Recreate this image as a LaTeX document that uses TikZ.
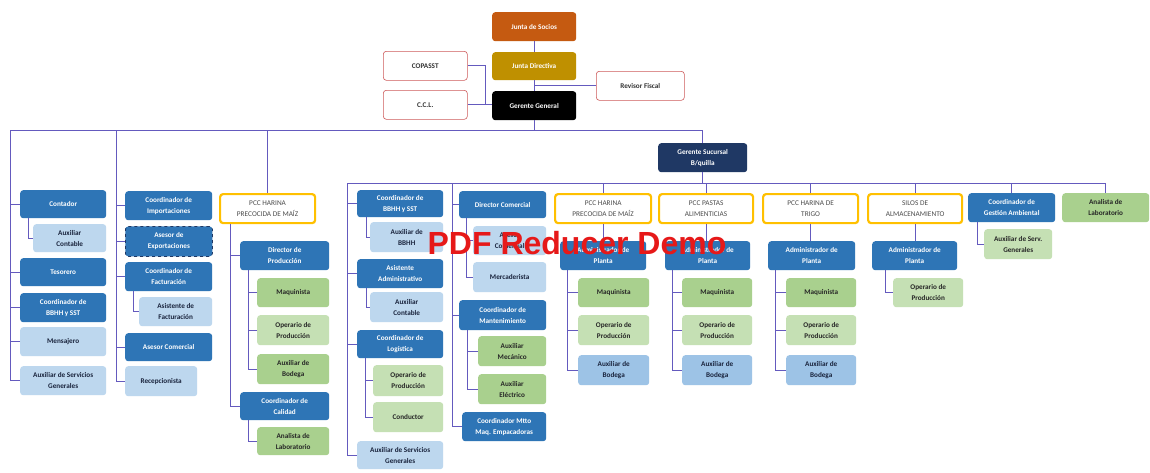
\documentclass[tikz,border=0pt]{standalone}
\usepackage{fontspec}
\setmainfont{Carlito}
\newfontfamily\wmfont{Liberation Sans}
\definecolor{dblue}{RGB}{46,117,182}
\definecolor{navy}{RGB}{31,56,100}
\definecolor{lblue}{RGB}{189,215,238}
\definecolor{mblue}{RGB}{157,195,230}
\definecolor{grn}{RGB}{169,208,142}
\definecolor{lgrn}{RGB}{197,224,180}
\definecolor{gold}{RGB}{255,192,0}
\definecolor{lnc}{RGB}{100,90,190}
\definecolor{orng}{RGB}{197,90,17}
\definecolor{dgold}{RGB}{191,144,0}
\definecolor{redb}{RGB}{205,90,90}
\definecolor{txtd}{RGB}{25,35,60}
\definecolor{wmred}{RGB}{230,25,25}
\newcommand{\bx}[7]{\node[#2, minimum width={#5pt-#3pt}, minimum height={#6pt-#4pt}] (#1) at (#3,#4) {#7};}
\tikzset{
 box/.style={rounded corners=3pt, anchor=north west, align=center, inner sep=1pt, font=\fontsize{7.2}{11}\selectfont\bfseries},
 db/.style={box, fill=dblue, text=white},
 dbd/.style={db, draw=navy, dashed, line width=0.8pt},
 nv/.style={box, fill=navy, text=white},
 lb/.style={box, fill=lblue, text=txtd},
 mb/.style={box, fill=mblue, text=txtd},
 gr/.style={box, fill=grn, text=black!85},
 lg/.style={box, fill=lgrn, text=black!85},
 pcc/.style={box, draw=gold, line width=2.2pt, fill=white, text=black!70, font=\fontsize{7.3}{10.5}\selectfont},
 wbox/.style={box, draw=redb, line width=0.6pt, fill=white, text=black!80},
 ln/.style={draw=lnc, line width=0.9pt},
}
\begin{document}
\begin{tikzpicture}[x=1pt,y=-1pt]
\fill[white] (0,0) rectangle (1150,472);
\useasboundingbox (0,0) rectangle (1150,472);
% top
\bx{js}{box, fill=orng, text=white}{492}{12}{576}{41}{Junta de Socios}
\bx{jd}{box, fill=dgold, text=white}{492}{52}{576}{80}{Junta Directiva}
\bx{gg}{box, fill=black, text=white}{492}{91}{576}{120}{Gerente General}
\bx{cop}{wbox}{383}{51}{467}{80}{COPASST}
\bx{ccl}{wbox}{383}{90}{467}{119}{C.C.L.}
\bx{rf}{wbox}{596}{71}{684}{100}{Revisor Fiscal}
\coordinate (j1) at (485,105);
\draw[ln] (js.south) -- (jd.north);
\draw[ln] (jd.south) -- (gg.north);
\draw[ln] (cop.east) -| (j1);
\draw[ln] (ccl.east) -- (ccl.east -| gg.west);
\draw[ln] (rf.west) -- (rf.west -| gg.north);
% main bar
\coordinate (b1L) at (10,130);
\coordinate (c2) at (116,130);
\bx{gs}{nv}{658}{143}{747}{172}{Gerente Sucursal\\B/quilla}
\draw[ln] (gg.south) -- (gg.south |- b1L);
\draw[ln] (b1L) -| (gs.north);
% col1
\bx{cont}{db}{20}{190}{106}{218}{Contador}
\bx{auxc1}{lb}{33}{224}{106}{252}{Auxiliar\\Contable}
\bx{teso}{db}{20}{258}{106}{286}{Tesorero}
\bx{rrhh1}{db}{20}{293}{106}{322}{Coordinador de\\BBHH y SST}
\bx{mens}{lb}{20}{327}{106}{356}{Mensajero}
\bx{asg1}{lb}{20}{366}{106}{395}{Auxiliar de Servicios\\Generales}
\draw[ln] (b1L) |- (asg1.west);
\foreach \n in {cont,teso,rrhh1,mens} \draw[ln] (\n.west) -- (\n.west -| b1L);
\coordinate (v1) at ([xshift=8pt]cont.south west);
\draw[ln] (v1) |- (auxc1.west);
% col2
\bx{imp}{db}{125}{191}{212}{220}{Coordinador de\\Importaciones}
\bx{expo}{dbd}{125}{226}{212}{256}{Asesor de\\Exportaciones}
\bx{fac}{db}{125}{262}{212}{291}{Coordinador de\\Facturación}
\bx{asf}{lb}{139}{297}{212}{326}{Asistente de\\Facturación}
\bx{ac1}{db}{125}{333}{212}{361}{Asesor Comercial}
\bx{rec}{lb}{125}{366}{197}{396}{Recepcionista}
\draw[ln] (c2) |- (rec.west);
\foreach \n in {imp,expo,fac,ac1} \draw[ln] (\n.west) -- (\n.west -| c2);
\coordinate (v2) at ([xshift=8pt]fac.south west);
\draw[ln] (v2) |- (asf.west);
% col3
\bx{pcc1}{pcc}{219}{193}{314}{222}{PCC HARINA\\PRECOCIDA DE MAÍZ}
\bx{dp}{db}{240}{241}{329}{270}{Director de\\Producción}
\bx{maq1}{gr}{257}{278}{329}{307}{Maquinista}
\bx{op1}{lg}{257}{315}{329}{345}{Operario de\\Producción}
\bx{ab1}{gr}{257}{354}{329}{384}{Auxiliar de\\Bodega}
\bx{cal}{db}{240}{392}{329}{420}{Coordinador de\\Calidad}
\bx{al1}{gr}{257}{427}{329}{455}{Analista de\\Laboratorio}
\draw[ln] (pcc1.north) -- (pcc1.north |- b1L);
\coordinate (v3) at ([xshift=11pt]pcc1.south west);
\draw[ln] (v3) |- (cal.west);
\draw[ln] (dp.west) -- (dp.west -| v3);
\coordinate (v3b) at ([xshift=8pt]dp.south west);
\draw[ln] (v3b) |- (ab1.west);
\foreach \n in {maq1,op1} \draw[ln] (\n.west) -- (\n.west -| v3b);
\coordinate (v3c) at ([xshift=8pt]cal.south west);
\draw[ln] (v3c) |- (al1.west);
% bar 2
\coordinate (b2L) at (347,183);
\coordinate (c5) at (452,183);
\bx{al5}{gr}{1062}{193}{1149}{222}{Analista de\\Laboratorio}
\draw[ln] (gs.south) -- (gs.south |- b2L);
\draw[ln] (b2L) -| (al5.north);
% col4
\bx{rrhh2}{db}{357}{190}{443}{217}{Coordinador de\\BBHH y SST}
\bx{auxbb}{lb}{370}{222}{443}{252}{Auxiliar de\\BBHH}
\bx{asad}{db}{357}{259}{443}{288}{Asistente\\Administrativo}
\bx{auxc2}{lb}{370}{292}{443}{322}{Auxiliar\\Contable}
\bx{logi}{db}{357}{330}{443}{358}{Coordinador de\\Logística}
\bx{op4}{lg}{373}{365}{443}{396}{Operario de\\Producción}
\bx{cond}{lg}{373}{402}{443}{432}{Conductor}
\bx{asg2}{lb}{357}{441}{443}{469}{Auxiliar de Servicios\\Generales}
\draw[ln] (b2L) |- (asg2.west);
\foreach \n in {rrhh2,asad,logi} \draw[ln] (\n.west) -- (\n.west -| b2L);
\coordinate (v4a) at ([xshift=9pt]rrhh2.south west);
\draw[ln] (v4a) |- (auxbb.west);
\coordinate (v4b) at ([xshift=9pt]asad.south west);
\draw[ln] (v4b) |- (auxc2.west);
\coordinate (v4c) at ([xshift=8pt]logi.south west);
\draw[ln] (v4c) |- (cond.west);
\draw[ln] (op4.west) -- (op4.west -| v4c);
% col5
\bx{dc}{db}{459}{191}{546}{218}{Director Comercial}
\bx{ac2}{lb}{473}{226}{546}{255}{Asesor\\Comercial}
\bx{merc}{lb}{473}{262}{546}{292}{Mercaderista}
\bx{mant}{db}{459}{300}{546}{330}{Coordinador de\\Mantenimiento}
\bx{amec}{gr}{478}{336}{546}{366}{Auxiliar\\Mecánico}
\bx{aele}{gr}{478}{374}{546}{404}{Auxiliar\\Eléctrico}
\bx{mtto}{db}{462}{412}{546}{441}{Coordinador Mtto\\Maq. Empacadoras}
\draw[ln] (c5) |- (mtto.west);
\foreach \n in {dc,mant} \draw[ln] (\n.west) -- (\n.west -| c5);
\coordinate (v5a) at ([xshift=7pt]dc.south west);
\draw[ln] (v5a) |- (merc.west);
\draw[ln] (ac2.west) -- (ac2.west -| v5a);
\coordinate (v5b) at ([xshift=8pt]mant.south west);
\draw[ln] (v5b) |- (aele.west);
\draw[ln] (amec.west) -- (amec.west -| v5b);
% col6
\bx{pcc2}{pcc}{554}{193}{650}{222}{PCC HARINA\\PRECOCIDA DE MAÍZ}
\bx{adm2}{db}{560}{241}{646}{270}{Administrador de\\Planta}
\bx{maq2}{gr}{578}{278}{649}{307}{Maquinista}
\bx{op2}{lg}{578}{315}{649}{345}{Operario de\\Producción}
\bx{ab2}{mb}{578}{355}{649}{385}{Auxiliar de\\Bodega}
% col7
\bx{pcc3}{pcc}{658}{193}{752}{222}{PCC PASTAS\\ALIMENTICIAS}
\bx{adm3}{db}{665}{241}{750}{270}{Administrador de\\Planta}
\bx{maq3}{gr}{682}{278}{752}{307}{Maquinista}
\bx{op3}{lg}{682}{315}{752}{345}{Operario de\\Producción}
\bx{ab3}{mb}{682}{355}{752}{385}{Auxiliar de\\Bodega}
% col8
\bx{pcc4}{pcc}{762}{193}{857}{222}{PCC HARINA DE\\TRIGO}
\bx{adm4}{db}{768}{241}{855}{270}{Administrador de\\Planta}
\bx{maq4}{gr}{786}{278}{856}{307}{Maquinista}
\bx{op5}{lg}{786}{315}{856}{345}{Operario de\\Producción}
\bx{ab4}{mb}{786}{355}{856}{385}{Auxiliar de\\Bodega}
\foreach \p/\a/\m/\o/\b in {pcc2/adm2/maq2/op2/ab2, pcc3/adm3/maq3/op3/ab3, pcc4/adm4/maq4/op5/ab4} {
  \draw[ln] (\p.north) -- (\p.north |- b2L);
  \draw[ln] (\p.south) -- (\p.south |- \a.north);
  \coordinate (vv) at ([xshift=7pt]\a.south west);
  \draw[ln] (vv) |- (\b.west);
  \draw[ln] (\m.west) -- (\m.west -| vv);
  \draw[ln] (\o.west) -- (\o.west -| vv);
}
% col9
\bx{pcc5}{pcc}{867}{193}{961}{222}{SILOS DE\\ALMACENAMIENTO}
\bx{adm5}{db}{872}{241}{957}{270}{Administrador de\\Planta}
\bx{op6}{lg}{893}{278}{963}{307}{Operario de\\Producción}
\draw[ln] (pcc5.north) -- (pcc5.north |- b2L);
\draw[ln] (pcc5.south) -- (pcc5.south |- adm5.north);
\coordinate (v9) at ([xshift=13pt]adm5.south west);
\draw[ln] (v9) |- (op6.west);
% col10
\bx{cga}{db}{968}{193}{1055}{222}{Coordinador de\\Gestión Ambiental}
\bx{asg3}{lg}{984}{229}{1052}{259}{Auxiliar de Serv.\\Generales}
\draw[ln] (cga.north) -- (cga.north |- b2L);
\coordinate (v10) at ([xshift=9pt]cga.south west);
\draw[ln] (v10) |- (asg3.west);
% watermark
\node[font=\wmfont\bfseries\fontsize{32}{32}\selectfont, text=wmred] (wm) at (577,243) {PDF Reducer Demo};
\end{tikzpicture}
\end{document}
